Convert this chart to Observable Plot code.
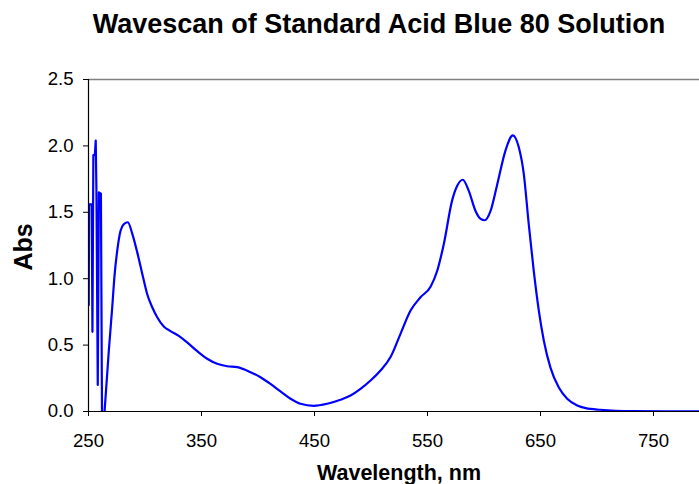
<!DOCTYPE html>
<html>
<head>
<meta charset="utf-8">
<script src="https://cdn.jsdelivr.net/npm/d3@7"></script>
<script src="https://cdn.jsdelivr.net/npm/@observablehq/plot@0.6"></script>
<style>
  html, body { margin: 0; padding: 0; background: #fff; }
  #chart svg { display: block; }
</style>
</head>
<body>
<div id="chart"></div>
<script>
// Noisy start of the scan (detector limit region)
const noiseWavelength = [250.2, 250.5, 252.8, 253.5, 254.3, 255.6, 256.4, 257.0, 258.2, 259.2, 261.0, 262.0, 263.6, 264.2];
const noiseAbs        = [0.80, 1.56, 1.56, 0.60, 1.93, 1.93, 2.04, 1.68, 0.20, 1.65, 1.64, -0.10, -0.10, 0.00];

// Smooth part of the scan
const scanWavelength = [264.2, 268.0, 271.0, 273.0, 275.4, 278.3, 281.2, 284.8, 288.7, 293.1, 297.5, 301.9, 306.4, 310.8,
  316.6, 322.6, 329.9, 337.3, 346.2, 355.0, 363.9, 372.7, 381.6, 393.4, 402.2, 411.0, 419.9, 428.8, 437.6,
  449.4, 461.2, 473.0, 481.9, 490.7, 499.6, 508.4, 517.3, 526.1, 535.0, 543.8, 552.7, 558.6, 564.4, 571.8,
  576.3, 581.2, 586.6, 592.5, 597.0, 600.7, 605.8, 611.7, 619.0, 625.5, 630.8, 635.2, 639.6, 644.0, 648.5,
  652.9, 658.8, 666.2, 673.6, 682.5, 690.0, 703.0, 732.0, 760.0, 790.7];
const scanAbs = [0.00, 0.46, 0.785, 1.02, 1.21, 1.36, 1.41, 1.425, 1.34, 1.20, 1.04, 0.885, 0.785, 0.71,
  0.64, 0.605, 0.57, 0.52, 0.454, 0.397, 0.359, 0.341, 0.334, 0.296, 0.258, 0.208, 0.151, 0.096, 0.058,
  0.043, 0.058, 0.088, 0.12, 0.17, 0.233, 0.309, 0.41, 0.585, 0.76, 0.86, 0.94, 1.06, 1.26, 1.59,
  1.70, 1.745, 1.66, 1.51, 1.45, 1.44, 1.51, 1.71, 1.965, 2.08, 1.99, 1.79, 1.41, 1.06, 0.76,
  0.535, 0.33, 0.18, 0.096, 0.045, 0.025, 0.013, 0.003, 0.002, 0.002];

const xTicks = [250, 350, 450, 550, 650, 750];
const yTicks = [0, 0.5, 1.0, 1.5, 2.0, 2.5];
const titleText = "Wavescan of Standard Acid Blue 80 Solution";
const xLabel = "Wavelength, nm";
const yLabel = "Abs";

const noise = noiseWavelength.map((w, i) => ({w, a: noiseAbs[i]}));
const scan = scanWavelength.map((w, i) => ({w, a: scanAbs[i]}));

const font = "'Liberation Sans', Arial, Helvetica, sans-serif";

const chart = Plot.plot({
  width: 699,
  height: 484,
  marginTop: 79,
  marginBottom: 73,
  marginLeft: 88,
  marginRight: 0,
  style: {fontFamily: font, fontSize: "18.6px", color: "#000", background: "#fff"},
  x: {domain: [250, 790.7], ticks: xTicks, tickFormat: d => String(d)},
  y: {domain: [0, 2.5], ticks: yTicks, tickFormat: d3.format(".1f")},
  marks: [
    Plot.ruleY([2.5], {stroke: "#808080", strokeWidth: 1.5}),
    Plot.line(noise, {x: "w", y: "a", stroke: "#0000FF", strokeWidth: 2.2, clip: true}),
    Plot.line(scan, {x: "w", y: "a", stroke: "#0000FF", strokeWidth: 2.2, curve: "monotone-x", clip: true}),
    Plot.axisX({ticks: xTicks, tickFormat: d => String(d), tickSize: 5, tickPadding: 17, label: null, stroke: "#000"}),
    Plot.axisY({ticks: yTicks, tickFormat: d3.format(".1f"), tickSize: 5, tickPadding: 10, label: null, stroke: "#000"}),
    Plot.ruleY([0], {stroke: "#000", strokeWidth: 1.2}),
    Plot.ruleX([250], {stroke: "#000", strokeWidth: 1.2}),
    Plot.text([titleText], {frameAnchor: "top", dx: -15, dy: -47, lineAnchor: "bottom", fontSize: 27, fontWeight: "bold", fill: "#000"}),
    Plot.text([xLabel], {frameAnchor: "bottom", dx: 5, dy: 68, lineAnchor: "bottom", fontSize: 21.5, fontWeight: "bold", fill: "#000"}),
    Plot.text([yLabel], {frameAnchor: "left", dx: -57, dy: 25, rotate: -90, lineAnchor: "bottom", fontSize: 25, fontWeight: "bold", fill: "#000"})
  ]
});
document.getElementById("chart").appendChild(chart);
</script>
</body>
</html>
